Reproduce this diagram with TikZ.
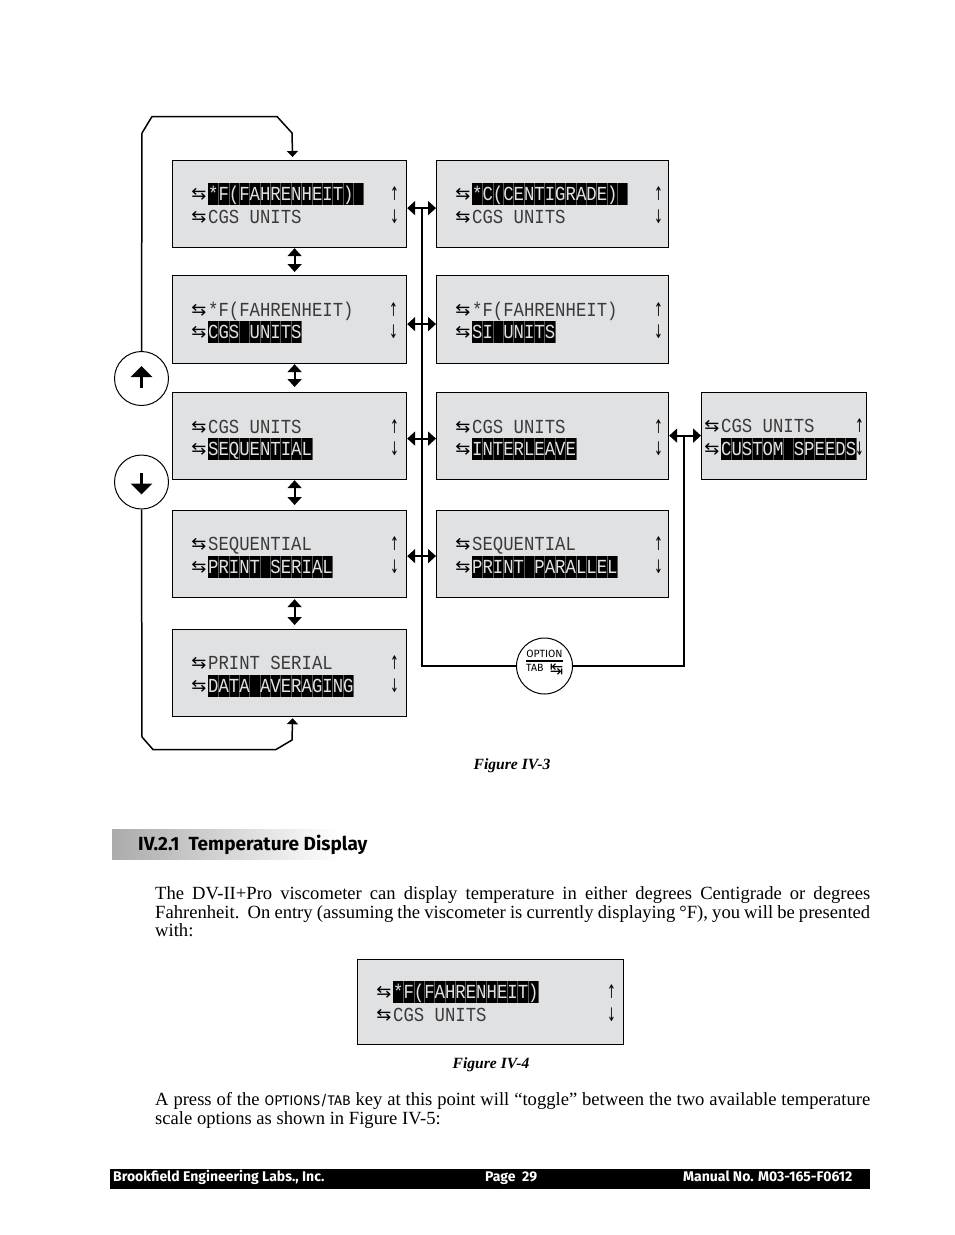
\documentclass[tikz,border=0pt]{standalone}
\usepackage{fontspec}
\usepackage{graphicx}
\usetikzlibrary{arrows.meta,calc}
\setmainfont{Liberation Serif}
\setsansfont{Fira Sans}
\newfontfamily\lcdf{Liberation Mono}
\newfontfamily\symf{DejaVu Sans}
\definecolor{lcdbg}{HTML}{E0E1E3}
\definecolor{lcdtx}{HTML}{3A3A3A}
\newcommand{\lcdfont}{\fontsize{17.3}{17.3}\lcdf}
\tikzset{
  x=1pt,y=-1pt,
  lcdpanel/.style={draw=black,line width=1.2pt,fill=lcdbg,inner sep=0pt,anchor=north west},
  lcdtext/.style={anchor=base west,inner sep=0pt,text=lcdtx,font=\lcdfont},
  lcdsym/.style={inner sep=0pt,text=black,font=\fontsize{15}{15}\symf},
  dbl/.style={line width=2.2pt,{Triangle[length=8pt,width=14pt]}-{Triangle[length=8pt,width=14pt]}},
  loopline/.style={line width=1.5pt},
  keycirc/.style={circle,draw=black,line width=1pt,fill=white,minimum size=54pt,inner sep=0pt},
  keyarrow/.style={line width=3.2pt,-{Triangle[length=11pt,width=21pt]}},
  bodyline/.style={anchor=base west,inner sep=0pt,font=\fontsize{18.6}{19}\selectfont},
  figcap/.style={inner sep=0pt,font=\fontsize{15.6}{16}\selectfont\bfseries\itshape},
  foot/.style={inner sep=0pt,anchor=base west,text=white,font=\fontsize{14}{14}\sffamily\bfseries},
}
\newcommand{\lcdbox}[5]{\node[lcdpanel,minimum width=#4-#2,minimum height=#5-#3] (#1) at (#2-1,#3-1) {};}
% name, text x, up-down x, y1, y2, line 1, line 2, lit line, lit chars
\newcommand{\lcdrows}[9]{%
  \ifnum#8=1 \def\yl{#4}\def\cola{lcdbg}\def\colb{lcdtx}\else\def\yl{#5}\def\cola{lcdtx}\def\colb{lcdbg}\fi
  \fill[black] (#2,\yl-11) rectangle ({#2+#9*10.37},\yl+11);
  \foreach \c in {1,...,#9} {\draw[line width=.4pt,black!65!white] ({#2+\c*10.37},\yl-11) -- ({#2+\c*10.37},\yl+11);}
  \node[lcdsym] (#1s1) at (#2-9,#4) {\scalebox{1.2}[1.1]{⇆}};
  \node[lcdsym] (#1s2) at (#2-9,#5) {\scalebox{1.2}[1.1]{⇆}};
  \node[lcdsym] (#1u) at (#3+.5,#4) {\scalebox{.7}[1.25]{↑}};
  \node[lcdsym] (#1d) at (#3+.5,#5) {\scalebox{.7}[1.25]{↓}};
  \node[lcdtext,text=\cola] (#1a) at (#2,#4+6) {\scalebox{1}[1.15]{#6}};
  \node[lcdtext,text=\colb] (#1b) at (#2,#5+6) {\scalebox{1}[1.15]{#7}};
}
\begin{document}
\begin{tikzpicture}
\useasboundingbox (0,0) rectangle (954,1235);
\fill[white] (0,0) rectangle (954,1235);
% left column
\lcdbox{la}{173}{161}{407}{248}
\lcdbox{lb}{173}{276}{407}{364}
\lcdbox{lc}{173}{393}{407}{480}
\lcdbox{ld}{173}{511}{407}{598}
\lcdbox{le}{173}{630}{407}{717}
% middle column
\lcdbox{ma}{437}{161}{669}{248}
\lcdbox{mb}{437}{276}{669}{364}
\lcdbox{mc}{437}{393}{669}{480}
\lcdbox{md}{437}{511}{669}{598}
% right
\lcdbox{ra}{702}{393}{867}{480}
% Figure IV-4 box
\lcdbox{fb}{358}{960}{624}{1045}

\lcdrows{la}{208}{394}{194}{217}{*F(FAHRENHEIT)}{CGS UNITS}{1}{15}
\lcdrows{lb}{208}{393}{310}{332}{*F(FAHRENHEIT)}{CGS UNITS}{2}{9}
\lcdrows{lc}{208}{394}{427}{449}{CGS UNITS}{SEQUENTIAL}{2}{10}
\lcdrows{ld}{208}{394}{544}{567}{SEQUENTIAL}{PRINT SERIAL}{2}{12}
\lcdrows{le}{208}{394}{663}{686}{PRINT SERIAL}{DATA AVERAGING}{2}{14}
\lcdrows{ma}{472}{658}{194}{217}{*C(CENTIGRADE)}{CGS UNITS}{1}{15}
\lcdrows{mb}{472}{658}{310}{332}{*F(FAHRENHEIT)}{SI UNITS}{2}{8}
\lcdrows{mc}{472}{658}{427}{449}{CGS UNITS}{INTERLEAVE}{2}{10}
\lcdrows{md}{472}{658}{544}{567}{SEQUENTIAL}{PRINT PARALLEL}{2}{14}
\lcdrows{ra}{721}{859}{426}{449}{CGS UNITS}{CUSTOM SPEEDS}{2}{13}
\lcdrows{fb}{393}{611}{992}{1015}{*F(FAHRENHEIT)}{CGS UNITS}{1}{14}

% key circles
\node[keycirc] (kup) at (141.5,378.5) {};
\node[keycirc] (kdn) at (141.5,482) {};
\draw[keyarrow] ([yshift=-9pt]kup.center) -- ([yshift=12.5pt]kup.center);
\draw[keyarrow] ([yshift=9pt]kdn.center) -- ([yshift=-12.5pt]kdn.center);

% loop connectors
\draw[loopline,-{Triangle[length=6pt,width=11pt]}] (kup.north) -- (142,133) -- (152,116.5) -- (277,116.5) -- (292,133) -- ([xshift=3pt,yshift=3pt]la.north);
\draw[loopline,-{Triangle[length=6pt,width=11pt]}] (kdn.south) -- (142,737) -- (153,749.5) -- (276,749.5) -- (292,740) -- ([xshift=3pt,yshift=-1pt]le.south);

% vertical double arrows
\draw[dbl] ([xshift=5pt]la.south) -- ([xshift=5pt,yshift=3pt]lb.north);
\draw[dbl] ([xshift=5pt]lb.south) -- ([xshift=5pt,yshift=5pt]lc.north);
\draw[dbl] ([xshift=5pt]lc.south) -- ([xshift=5pt,yshift=5pt]ld.north);
\draw[dbl] ([xshift=5pt,yshift=-1pt]ld.south) -- ([xshift=5pt,yshift=4pt]le.north);

% horizontal double arrows
\draw[dbl] ([yshift=-4pt]la.east) -- ([yshift=-4pt]ma.west);
\draw[dbl] ([yshift=-4.5pt]lb.east) -- ([yshift=-4.5pt]mb.west);
\draw[dbl] ([yshift=-2.5pt]lc.east) -- ([yshift=-2.5pt]mc.west);
\draw[dbl] ([yshift=-2pt]ld.east) -- ([yshift=-2pt]md.west);
\draw[dbl] ([yshift=.5pt]mc.east) -- ([yshift=.5pt]ra.west);

% option key
\node[circle,draw=black,line width=1pt,fill=white,minimum size=56pt,inner sep=0pt] (opt) at (544.5,666) {};
\coordinate (jl) at (422,209);
\coordinate (jr) at (684,436.5);
\draw[line width=2pt] (jl) |- (opt.west);
\draw[line width=2pt] (jr) |- (opt.east);
\draw[line width=1.2pt] (526,661) -- (563,661);
\node[inner sep=0pt,font=\fontsize{10.5}{10.5}\sffamily] (optt) at (544.5,653.5) {OPTION};
\node[inner sep=0pt,font=\fontsize{10.5}{10.5}\sffamily,anchor=west] (tabt) at (526,668) {TAB};
\node[inner sep=0pt,font=\fontsize{16}{16}\symf] (tabs) at (556.5,669) {↹};

% captions
\node[figcap] (cap3) at (512,766) {Figure IV-3};
\node[figcap] (cap4) at (491,1065) {Figure IV-4};

% heading band
\shade[left color=black!33,right color=white] (112,829) rectangle (340,859);
\node[anchor=base west,inner sep=0pt,font=\fontsize{19}{19}\sffamily\bfseries] (head) at (138,850) {IV.2.1\ \ Temperature Display};

% body
\node[bodyline] (b1) at (155,899) {\makebox[715pt][s]{The DV-II+Pro viscometer can display temperature in either degrees Centigrade or degrees}};
\node[bodyline] (b2) at (155,918) {\makebox[715pt][s]{Fahrenheit.\ \ On entry (assuming the viscometer is currently displaying °F), you will be presented}};
\node[bodyline] (b3) at (155,936) {with:};
\node[bodyline] (b4) at (155,1105) {\makebox[715pt][s]{A press of the {\fontsize{14}{14}\sffamily OPTIONS/TAB} key at this point will “toggle” between the two available temperature}};
\node[bodyline] (b5) at (155,1124) {scale options as shown in Figure IV-5:};

% footer
\fill[black] (110,1169) rectangle (870,1189);
\node[foot] (f1) at (113,1181) {Brookfield Engineering Labs., Inc.};
\node[foot] (f2) at (485,1181) {Page\ \ 29};
\node[foot] (f3) at (683,1181) {Manual No. M03-165-F0612};
\end{tikzpicture}
\end{document}
